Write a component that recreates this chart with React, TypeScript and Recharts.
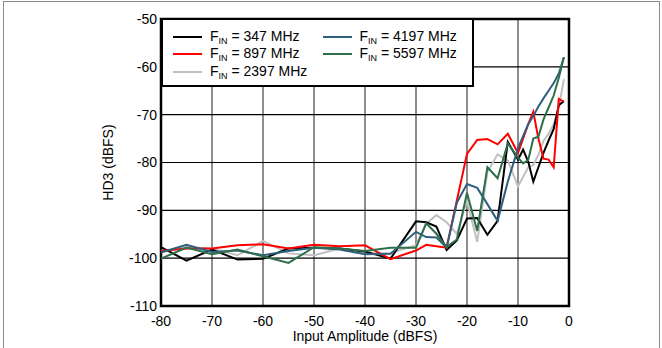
import React from "react";
import { LineChart, Line, XAxis, YAxis, CartesianGrid, ReferenceArea } from "recharts";

// input amplitude (dBFS)
const inputLevels = [
  -80, -75, -70, -65, -60, -55, -50, -45, -40, -35,
  -30, -28, -26, -24, -22, -20, -18, -16, -14, -12,
  -10, -9, -8, -7, -6, -5, -4, -3, -2, -1,
];

// HD3 (dBFS) per input frequency
const fin347 = [
  -97.7, -100.5, -98.2, -100.3, -100.1, -98.0, -97.8, -98.0, -98.6, -100.1,
  -92.3, -92.5, -93.4, -98.3, -96.3, -91.7, -91.6, -95.1, -92.2, -75.7,
  -79.4, -77.3, -79.8, -84.0, -81.0, -78.0, -75.4, -73.0, -68.0, -67.2,
];
const fin897 = [
  -98.5, -98.0, -98.0, -97.3, -97.1, -98.0, -97.2, -97.5, -97.3, -100.2,
  -98.4, -97.2, -97.5, -97.8, -88.0, -78.2, -75.3, -75.1, -76.2, -74.0,
  -78.0, -75.0, -72.0, -69.4, -75.0, -79.2, -79.4, -81.0, -66.7, -67.3,
];
const fin2397 = [
  -98.5, -97.7, -98.0, -99.4, -96.4, -99.0, -99.4, -98.0, -99.0, -98.9,
  -97.3, -92.8, -91.0, -92.5, -94.9, -88.0, -96.6, -82.0, -78.3, -79.6,
  -85.0, -83.0, -81.0, -80.5, -78.4, -75.5, -74.0, -72.0, -68.5, -62.6,
];
const fin4197 = [
  -98.8, -97.2, -98.7, -98.4, -99.4, -98.5, -97.8, -98.2, -99.2, -99.1,
  -94.5, -95.6, -95.7, -97.8, -88.4, -84.5, -85.3, -88.7, -92.2, -84.0,
  -77.0, -74.5, -72.0, -70.3, -68.3, -66.6, -65.0, -63.4, -61.4, -58.0,
];
const fin5597 = [
  -100.1, -97.8, -99.2, -98.2, -99.6, -101.0, -97.7, -98.0, -98.5, -97.8,
  -97.8, -92.7, -94.9, -97.7, -96.1, -86.3, -94.3, -81.0, -83.3, -76.0,
  -79.0, -80.2, -79.5, -75.0, -74.6, -71.0, -68.5, -66.0, -62.3, -58.0,
];

const xTicks = [-80, -70, -60, -50, -40, -30, -20, -10, 0];
const yTicks = [-110, -100, -90, -80, -70, -60, -50];

const SERIES = [
  { key: "f2397", label: "2397 MHz", color: "#c0c0c0", values: fin2397 },
  { key: "f347", label: "347 MHz", color: "#000000", values: fin347 },
  { key: "f897", label: "897 MHz", color: "#ff0000", values: fin897 },
  { key: "f4197", label: "4197 MHz", color: "#2f5f7f", values: fin4197 },
  { key: "f5597", label: "5597 MHz", color: "#2e6e4a", values: fin5597 },
];

const LEGEND_COLS = [
  ["f347", "f897", "f2397"],
  ["f4197", "f5597"],
];

const FONT = "'Liberation Sans', Arial, sans-serif";

const rows = inputLevels.map((x, i) => {
  const row: Record<string, number> = { x };
  SERIES.forEach((s) => (row[s.key] = s.values[i]));
  return row;
});

const LegendBox = () => (
  <div
    style={{
      position: "absolute",
      left: 161,
      top: 18,
      width: 309,
      height: 65,
      border: "2px solid #000",
      background: "#fff",
      display: "flex",
      fontFamily: FONT,
      fontSize: 14,
      color: "#000",
    }}
  >
    {LEGEND_COLS.map((col, ci) => (
      <div key={ci} style={{ paddingLeft: ci === 0 ? 10 : 0, paddingTop: 8, width: 150 }}>
        {col.map((k) => {
          const s = SERIES.find((d) => d.key === k)!;
          return (
            <div key={k} style={{ display: "flex", alignItems: "center", height: 17.5 }}>
              <span style={{ display: "inline-block", width: 29, height: 2, background: s.color, marginRight: 8 }} />
              <span style={{ whiteSpace: "nowrap" }}>
                F<sub style={{ fontSize: 9, verticalAlign: "-3px" }}>IN</sub> = {s.label}
              </span>
            </div>
          );
        })}
      </div>
    ))}
  </div>
);

export default function App() {
  return (
    <div
      style={{
        position: "absolute",
        left: 0,
        top: 0,
        width: 662,
        height: 348,
        overflow: "hidden",
        background: "#fff",
        fontFamily: FONT,
      }}
    >
      <div
        style={{
          position: "absolute",
          left: 3,
          top: 1,
          width: 655,
          height: 400,
          border: "1px solid #8c8c8c",
        }}
      />
      <LineChart
        width={662}
        height={348}
        data={rows}
        margin={{ top: 19, right: 93, left: 101, bottom: 2 }}
      >
        <CartesianGrid horizontal={false} stroke="#505050" strokeWidth={1.3} verticalValues={xTicks} />
        <CartesianGrid vertical={false} stroke="#000" strokeWidth={1.2} horizontalValues={yTicks} />
        <XAxis
          dataKey="x"
          type="number"
          domain={[-80, 0]}
          ticks={xTicks}
          axisLine={false}
          tickLine={false}
          tickSize={6}
          tickMargin={4}
          height={40}
          tick={{ fontSize: 14, fill: "#000", fontFamily: FONT }}
          label={{ value: "Input Amplitude (dBFS)", position: "insideBottom", offset: 5, fontSize: 14, fill: "#000", fontFamily: FONT }}
        />
        <YAxis
          type="number"
          domain={[-110, -50]}
          ticks={yTicks}
          axisLine={false}
          tickLine={false}
          tickSize={4}
          tickMargin={0}
          width={60}
          tick={{ fontSize: 14, fill: "#000", fontFamily: FONT }}
          label={{
            value: "HD3 (dBFS)",
            angle: -90,
            position: "insideLeft",
            offset: 7,
            fontSize: 14,
            fill: "#000",
            fontFamily: FONT,
            style: { textAnchor: "middle" },
          }}
        />
        {SERIES.map((s) => (
          <Line
            key={s.key}
            dataKey={s.key}
            stroke={s.color}
            strokeWidth={2}
            dot={false}
            type="linear"
            isAnimationActive={false}
          />
        ))}
        <ReferenceArea x1={-80} x2={0} y1={-110} y2={-50} fill="none" stroke="#000" strokeWidth={2.5} />
      </LineChart>
      <LegendBox />
    </div>
  );
}
